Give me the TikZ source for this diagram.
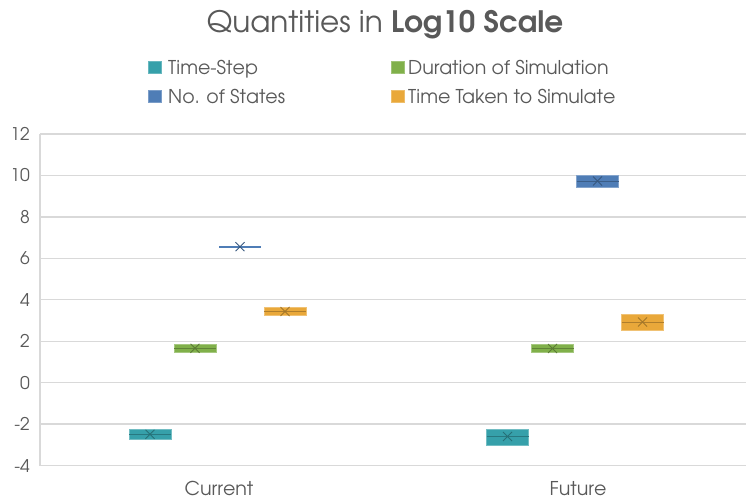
\documentclass[tikz,border=0pt]{standalone}
\usepackage[T1]{fontenc}
\usepackage{avant}
\renewcommand{\familydefault}{\sfdefault}
\definecolor{txt}{HTML}{595959}
\definecolor{grid}{HTML}{D9D9D9}
\definecolor{cteal}{HTML}{36A0AA}
\definecolor{cgreen}{HTML}{80B04A}
\definecolor{cblue}{HTML}{4F7DB6}
\definecolor{corange}{HTML}{E9A83A}
\tikzset{
  gridline/.style={draw=grid, line width=1.4pt},
  ticklbl/.style={anchor=east, text=txt, font=\fontsize{17.5}{20}\selectfont, inner sep=0pt},
  catlbl/.style={anchor=base, text=txt, font=\fontsize{19}{22}\selectfont, inner sep=0pt},
  leglbl/.style={anchor=base west, text=txt, font=\fontsize{19}{22}\selectfont, inner sep=0pt},
  legkey/.style={fill=#1, draw=#1!75!white, line width=0.6pt},
  qbox/.style={fill=#1, draw=#1!70!white, line width=0.8pt},
  qmed/.style={draw=#1!75!black, line width=0.8pt},
  qmean/.style={draw=#1!70!black, line width=0.8pt},
}
% box of width 42 from left edge #1, quartiles #2 (top) and #3 (bottom), median #4, colour #5
\newcommand{\qbox}[5]{%
  \path[qbox=#5] (#1,#2) rectangle ++(42,#3-#2);
  \draw[qmed=#5] (#1,#4) -- ++(42,0);
  \draw[qmean=#5] (#1+21-4.5,#4-4.5) -- ++(9,9) (#1+21-4.5,#4+4.5) -- ++(9,-9);
}
\begin{document}
\begin{tikzpicture}[x=1pt,y=-1pt]
\useasboundingbox (0,0) rectangle (746,502);

% title
\node[anchor=base, text=txt, font=\fontsize{29.5}{35}\selectfont, inner sep=0pt] (title) at (385,33)
  {Quantities in \textbf{Log10 Scale}};

% legend
\path[legkey=cteal]   (148.5,61) rectangle ++(12.5,12.5);
\node[leglbl] (l1) at (168,74.5) {Time-Step};
\path[legkey=cgreen]  (391.5,61) rectangle ++(12.5,12.5);
\node[leglbl] (l2) at (408,74.5) {Duration of Simulation};
\path[legkey=cblue]   (148.5,90) rectangle ++(12.5,12.5);
\node[leglbl] (l3) at (168,103.5) {No. of States};
\path[legkey=corange] (391.5,90) rectangle ++(12.5,12.5);
\node[leglbl] (l4) at (408,103.5) {Time Taken to Simulate};

% gridlines and value labels
\foreach \v in {12,10,...,-4} {
  \pgfmathsetmacro{\yy}{134+(12-\v)*20.72}
  \draw[gridline] (40,\yy) -- (746,\yy);
  \node[ticklbl] (t\v) at (30,\yy) {\v};
}
\draw[gridline] (40,134) -- (40,465.5);

% category labels
\node[catlbl] (cur) at (219,495) {Current};
\node[catlbl] (fut) at (578,495) {Future};

% Current
\qbox{129}{429.5}{439}{434.3}{cteal}
\qbox{174}{344.5}{352}{348.3}{cgreen}
\draw[qbox=cblue, draw=cblue, line width=1.8pt] (219,246.7) -- ++(42,0);
\draw[qmean=cblue] (235.5,242.2) -- ++(9,9) (235.5,251.2) -- ++(9,-9);
\qbox{264}{307.5}{315.5}{311.5}{corange}

% Future
\qbox{486.5}{429.5}{445}{436.5}{cteal}
\qbox{531.5}{344.3}{352.3}{348.5}{cgreen}
\qbox{576.5}{175.7}{187.7}{181}{cblue}
\qbox{621.5}{314}{330}{322}{corange}
\end{tikzpicture}
\end{document}
